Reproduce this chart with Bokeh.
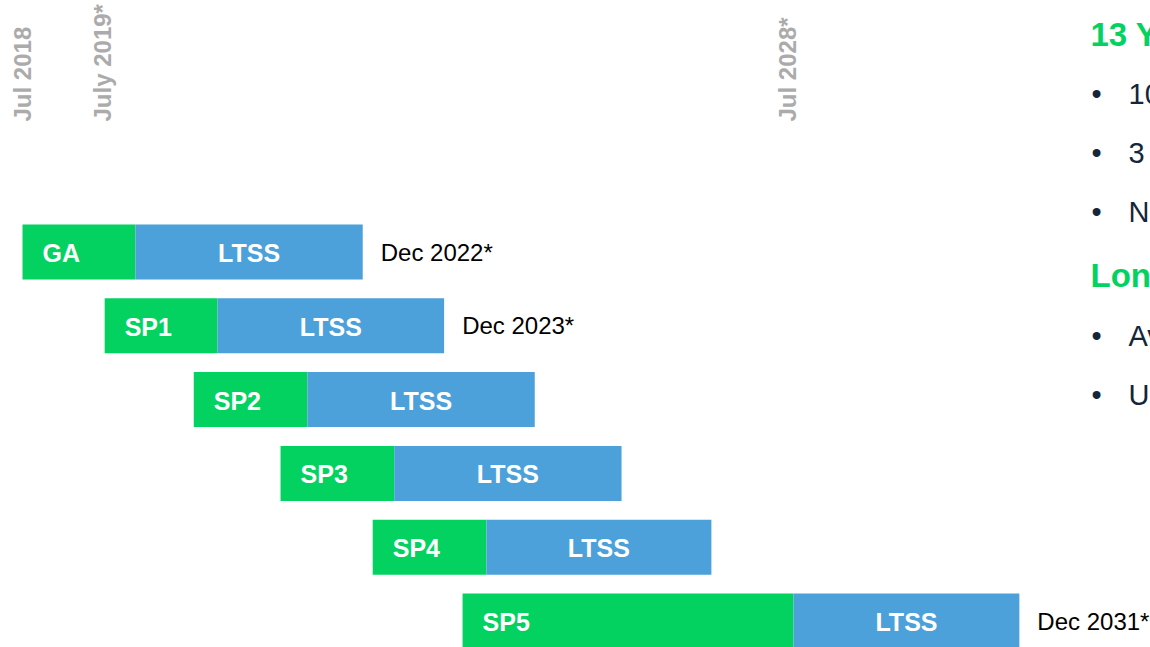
import math
from bokeh.plotting import figure
from bokeh.models import ColumnDataSource, Range1d, Label
from bokeh.core.properties import value
from bokeh.embed import file_html
from bokeh.resources import INLINE

# ---------------- data ----------------
releases = ["GA", "SP1", "SP2", "SP3", "SP4", "SP5"]
release_start = [2018.50, 2019.57, 2020.73, 2021.86, 2023.06, 2024.23]
general_end = [2019.97, 2021.04, 2022.21, 2023.34, 2024.54, 2028.54]
ltss_end = [2022.93, 2023.99, 2025.17, 2026.30, 2027.47, 2031.48]
ltss_labels = ["LTSS"] * 6
end_labels = ["Dec 2022*", "Dec 2023*", "", "", "", "Dec 2031*"]

milestone_dates = [2018.50, 2019.54, 2028.46]
milestone_labels = ["Jul 2018", "July 2019*", "Jul 2028*"]

headings = ["13 Years Lifecycle", "Long Term Service Pack Support"]
bullets_block1 = ["10 Years General Support", "3 Years Extended Support (LTSS)", "No forced upgrades"]
bullets_block2 = ["Available for every Service Pack", "Up to 3 additional years"]

# ---------------- style ----------------
GREEN = "#03D260"
BLUE = "#4CA1DA"
GREY = "#ABABAB"
NAVY = "#13263A"
FONT = "Liberation Sans"

W, H = 1150, 647
PX_PER_YEAR = 76.8
x0 = 2018.5 - 22 / PX_PER_YEAR
x1 = x0 + W / PX_PER_YEAR
ROW_PX = 73.8
FIRST_ROW_PX = 251.5
y_top = -FIRST_ROW_PX / ROW_PX
y_bottom = (H - FIRST_ROW_PX) / ROW_PX

p = figure(width=W, height=H, output_backend="svg", toolbar_location=None,
           x_range=Range1d(x0, x1), y_range=Range1d(y_bottom, y_top),
           min_border=0, min_border_left=0, min_border_right=0,
           min_border_top=0, min_border_bottom=0)
p.axis.visible = False
p.grid.visible = False
p.outline_line_color = None
p.background_fill_color = "white"
p.border_fill_color = "white"

rows = list(range(len(releases)))
src = ColumnDataSource(dict(
    row=rows, name=releases, start=release_start, gen_end=general_end,
    ltss_end=ltss_end, ltss=ltss_labels, end_label=end_labels,
    ltss_mid=[(a + b) / 2 for a, b in zip(general_end, ltss_end)],
))

BAR_H = 55 / ROW_PX
p.hbar(y="row", left="start", right="gen_end", height=BAR_H, source=src,
       fill_color=GREEN, line_color=None)
p.hbar(y="row", left="gen_end", right="ltss_end", height=BAR_H, source=src,
       fill_color=BLUE, line_color=None)

p.text(x="start", y="row", text="name", source=src, x_offset=20, y_offset=1,
       text_align="left", text_baseline="middle", text_color="white",
       text_font=value(FONT), text_font_style="bold", text_font_size="25px")
p.text(x="ltss_mid", y="row", text="ltss", source=src, y_offset=1,
       text_align="center", text_baseline="middle", text_color="white",
       text_font=value(FONT), text_font_style="bold", text_font_size="25px")
p.text(x="ltss_end", y="row", text="end_label", source=src, x_offset=18,
       text_align="left", text_baseline="middle", text_color="black",
       text_font=value(FONT), text_font_size="24px")

# top milestone labels (rotated)
ms_y = (121 - FIRST_ROW_PX) / ROW_PX
ms_src = ColumnDataSource(dict(x=milestone_dates, y=[ms_y] * len(milestone_dates),
                               text=milestone_labels))
p.text(x="x", y="y", text="text", source=ms_src, angle=math.pi / 2,
       text_align="left", text_baseline="middle", text_color=GREY,
       text_font=value(FONT), text_font_style="bold", text_font_size="24px")

# right-hand text block (screen coordinates, clipped by page edge as in the slide)
def sy(ref_y):
    return H - ref_y

heading_y = [34, 274.5]
for txt, ry in zip(headings, heading_y):
    p.add_layout(Label(x=1090, y=sy(ry), x_units="screen", y_units="screen",
                       text=txt, text_color=GREEN, text_font=FONT,
                       text_font_style="bold", text_font_size="33px",
                       text_align="left", text_baseline="middle"))

bullet_y = [93, 152, 211, 335, 394]
for txt, ry in zip(bullets_block1 + bullets_block2, bullet_y):
    p.add_layout(Label(x=1096, y=sy(ry), x_units="screen", y_units="screen",
                       text="\u2022", text_color=NAVY, text_font=FONT,
                       text_font_size="29px", text_align="center",
                       text_baseline="middle"))
    p.add_layout(Label(x=1128, y=sy(ry), x_units="screen", y_units="screen",
                       text=txt, text_color=NAVY, text_font=FONT,
                       text_font_size="29px", text_align="left",
                       text_baseline="middle"))

open("out.html", "w").write(file_html(p, INLINE))
